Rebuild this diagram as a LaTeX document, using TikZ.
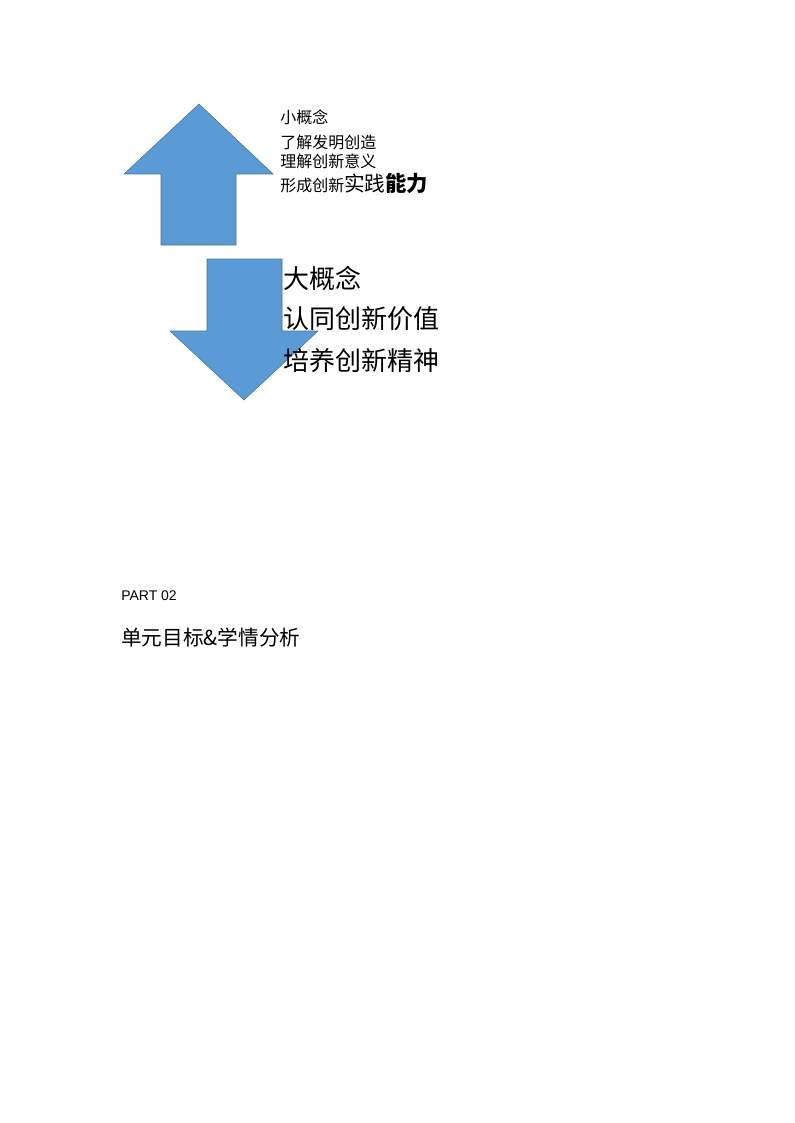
\documentclass[tikz,border=0pt]{standalone}
\usepackage{fontspec}
\setmainfont{Liberation Sans}
\newfontfamily\cjk{Noto Sans CJK SC}
\definecolor{arrowfill}{HTML}{5B9BD5}
\definecolor{arrowline}{HTML}{41719C}
\begin{document}
\begin{tikzpicture}[x=0.75pt,y=-0.75pt,
  bigarrow/.style={fill=arrowfill,draw=arrowline,line width=0.4pt,line join=miter},
  smalltxt/.style={anchor=base west,inner sep=0pt,font=\cjk\fontsize{12pt}{14pt}\selectfont},
  bigtxt/.style={anchor=base west,inner sep=0pt,font=\cjk\fontsize{19.5pt}{22pt}\selectfont},
  parttxt/.style={anchor=base west,inner sep=0pt,font=\fontsize{10.5pt}{12pt}\selectfont},
  titletxt/.style={anchor=base west,inner sep=0pt,font=\cjk\fontsize{15.5pt}{18pt}\selectfont}]
\useasboundingbox (0,0) rectangle (794,1123);
% up arrow
\draw[bigarrow] (199,104) -- (273,174) -- (236,174) -- (236,245) -- (161,245) -- (161,174) -- (124,174) -- cycle;
% down arrow
\draw[bigarrow] (207,259) -- (282,259) -- (282,331) -- (318,331) -- (244,400) -- (170,331) -- (207,331) -- cycle;
% small concept text
\node[smalltxt] (s1) at (280,124) {小概念};
\node[smalltxt] (s2) at (280,149) {了解发明创造};
\node[smalltxt] (s3) at (280,168) {理解创新意义};
\node[smalltxt] (s4) at (280,192) {形成创新{\fontsize{15.5pt}{18pt}\selectfont 实践}{\fontsize{16pt}{18pt}\selectfont\bfseries 能力}};
% big concept text
\node[bigtxt] (b1) at (283,288) {大概念};
\node[bigtxt] (b2) at (283,328) {认同创新价值};
\node[bigtxt] (b3) at (283,370) {培养创新精神};
% part label
\node[parttxt] (p1) at (121,600) {PART 02};
\node[titletxt] (p2) at (121,645) {单元目标\&学情分析};
\end{tikzpicture}
\end{document}
